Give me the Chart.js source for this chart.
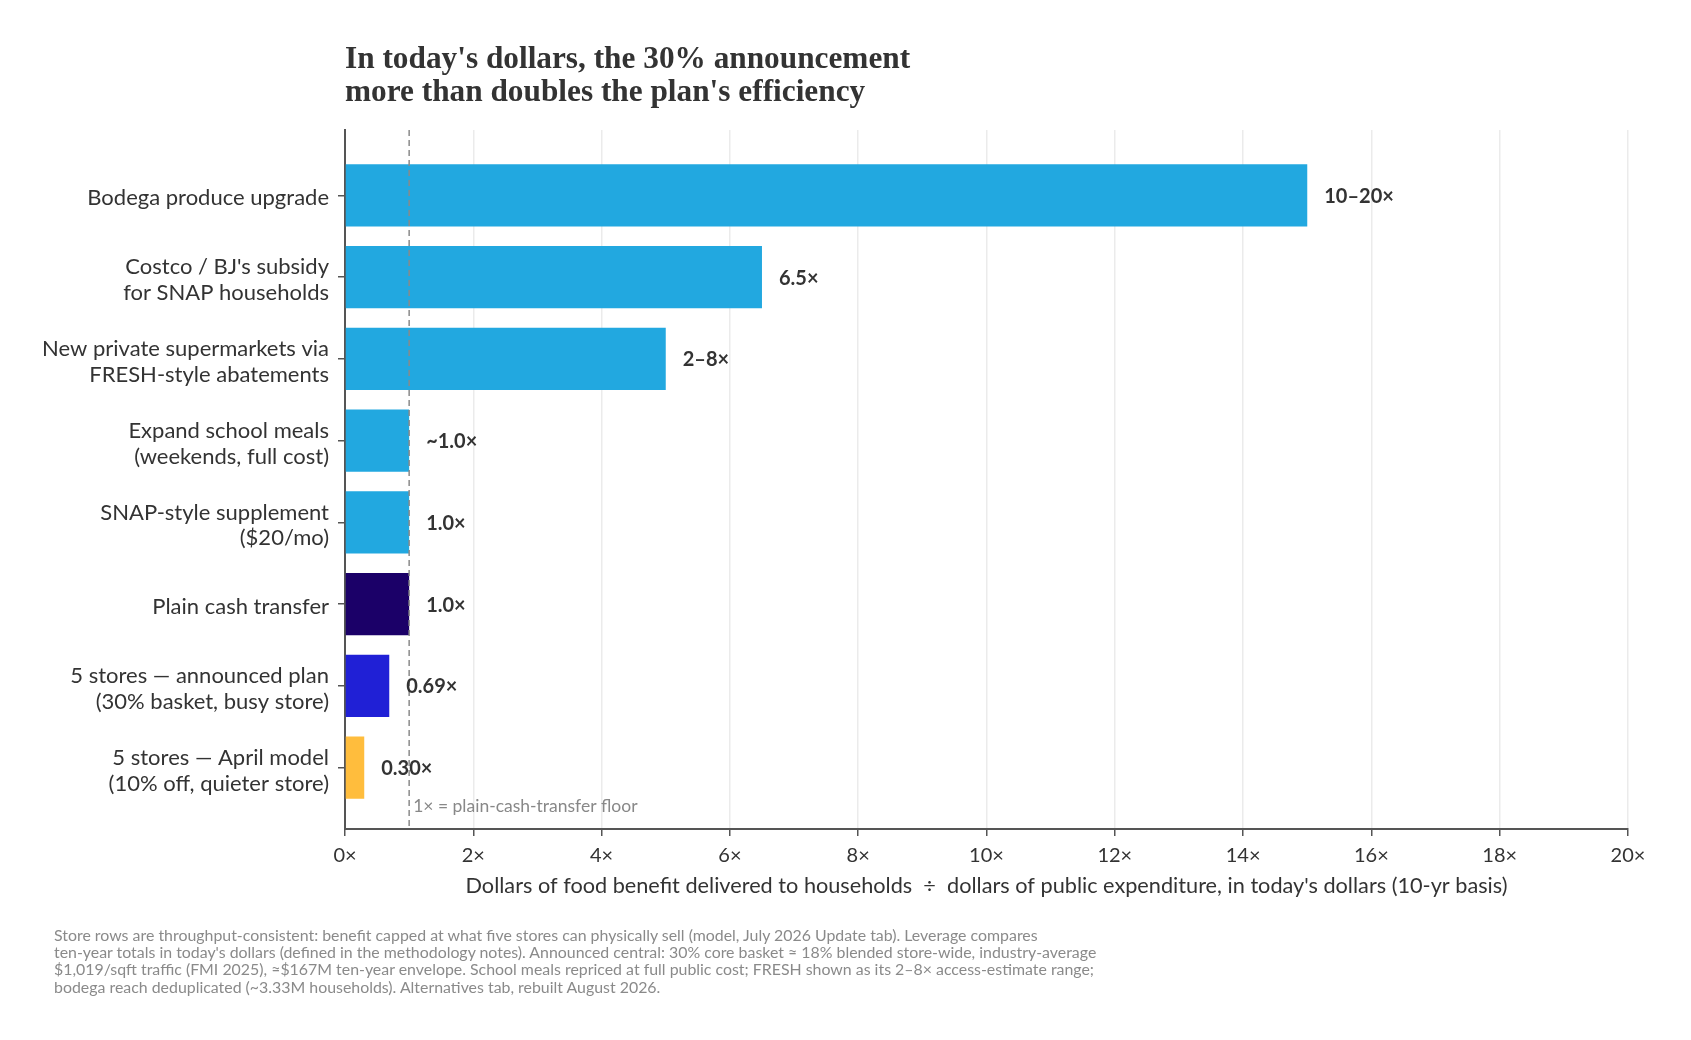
<!DOCTYPE html>
<html lang="en">
<head>
    <meta charset="UTF-8">
    <title>Food benefit leverage</title>
    <script src="https://cdn.jsdelivr.net/npm/chart.js"></script>
    <style>
        body { margin: 0; background: #fff; }
        .wrap { position: relative; width: 1691px; height: 1040px; }
        .title {
            position: absolute; left: 345px; top: 41px;
            font: bold 31.3px/33px "Liberation Serif", serif;
            color: #333;
        }
        .note {
            position: absolute; left: 54px; top: 926px;
            font: 15.9px/17.2px Lato, sans-serif;
            color: #8a8a8a;
            white-space: nowrap;
        }
    </style>
</head>
<body>
<div class="wrap">
    <canvas id="leverageChart"></canvas>
    <div class="title">In today's dollars, the 30% announcement<br>more than doubles the plan's efficiency</div>
    <div class="note">
        Store rows are throughput-consistent: benefit capped at what five stores can physically sell (model, July 2026 Update tab). Leverage compares<br>
        ten-year totals in today's dollars (defined in the methodology notes). Announced central: 30% core basket ≈ 18% blended store-wide, industry-average<br>
        $1,019/sqft traffic (FMI 2025), ≈$167M ten-year envelope. School meals repriced at full public cost; FRESH shown as its 2–8× access-estimate range;<br>
        bodega reach deduplicated (~3.33M households). Alternatives tab, rebuilt August 2026.
    </div>
</div>

<script>
    const categories = [
        'Bodega produce upgrade',
        ['Costco / BJ\'s subsidy', 'for SNAP households'],
        ['New private supermarkets via', 'FRESH-style abatements'],
        ['Expand school meals', '(weekends, full cost)'],
        ['SNAP-style supplement', '($20/mo)'],
        'Plain cash transfer',
        ['5 stores — announced plan', '(30% basket, busy store)'],
        ['5 stores — April model', '(10% off, quieter store)']
    ];
    const leverage = [15, 6.5, 5, 1.0, 1.0, 1.0, 0.69, 0.30];
    const valueLabels = ['10–20×', '6.5×', '2–8×', '~1.0×', '1.0×', '1.0×', '0.69×', '0.30×'];
    const barColors = ['#22a8e0', '#22a8e0', '#22a8e0', '#22a8e0', '#22a8e0', '#1b0068', '#2020d6', '#ffbd3d'];
    const xTicks = [0, 2, 4, 6, 8, 10, 12, 14, 16, 18, 20];
    const floorValue = 1;
    const floorNote = '1× = plain-cash-transfer floor';
    const xTitle = 'Dollars of food benefit delivered to households  ÷  dollars of public expenditure, in today\'s dollars (10-yr basis)';

    // dashed 1x line plus its small note
    const floorLine = {
        id: 'floorLine',
        afterDatasetsDraw(chart) {
            const { ctx, chartArea, scales } = chart;
            const x = scales.x.getPixelForValue(floorValue);
            ctx.save();
            ctx.strokeStyle = '#8a8a8a';
            ctx.lineWidth = 1.5;
            ctx.setLineDash([6, 4]);
            ctx.beginPath();
            ctx.moveTo(x, chartArea.top);
            ctx.lineTo(x, chartArea.bottom);
            ctx.stroke();
            ctx.setLineDash([]);
            ctx.fillStyle = '#888';
            ctx.font = '17.5px Lato';
            ctx.textBaseline = 'alphabetic';
            ctx.fillText(floorNote, x + 4, chartArea.bottom - 17);
            ctx.restore();
        }
    };

    // value text at the end of each bar
    const barValues = {
        id: 'barValues',
        afterDatasetsDraw(chart) {
            const ctx = chart.ctx;
            ctx.save();
            ctx.font = 'bold 20px Lato';
            ctx.fillStyle = '#333';
            ctx.textBaseline = 'middle';
            chart.getDatasetMeta(0).data.forEach((bar, i) => {
                ctx.fillText(valueLabels[i], bar.x + 17, bar.y + 1);
            });
            ctx.restore();
        }
    };

    const ctx = document.getElementById('leverageChart').getContext('2d');
    const leverageChart = new Chart(ctx, {
        type: 'bar',
        data: {
            datasets: [{
                data: leverage.map((v, i) => ({ x: v, y: i })),
                backgroundColor: barColors,
                borderWidth: 0,
                barPercentage: 0.76,
                categoryPercentage: 1
            }]
        },
        options: {
            indexAxis: 'y',
            responsive: true,
            maintainAspectRatio: false,
            animation: false,
            layout: { padding: { top: 130, right: 63, bottom: 141, left: 0 } },
            plugins: {
                legend: { display: false },
                tooltip: { enabled: false }
            },
            scales: {
                x: {
                    type: 'linear',
                    min: 0,
                    max: 20,
                    afterBuildTicks: s => { s.ticks = xTicks.map(v => ({ value: v })); },
                    afterFit: s => { s.height = 70; },
                    ticks: {
                        callback: v => v + '×',
                        color: '#333',
                        font: { family: 'Lato', size: 20 },
                        padding: 8
                    },
                    grid: { color: '#ebebeb', lineWidth: 1.5, tickColor: '#555', tickLength: 7 },
                    border: { color: '#555', width: 2 },
                    title: {
                        display: true,
                        text: xTitle,
                        color: '#333',
                        font: { family: 'Lato', size: 21.7 },
                        padding: 0
                    }
                },
                y: {
                    type: 'linear',
                    reverse: true,
                    offset: false,
                    min: -0.8,
                    max: 7.75,
                    afterBuildTicks: s => { s.ticks = categories.map((_, i) => ({ value: i })); },
                    afterFit: s => { s.width = 345; },
                    ticks: {
                        callback: v => categories[v],
                        color: '#333',
                        font: { family: 'Lato', size: 22, lineHeight: 1.18 },
                        padding: 9,
                        labelOffset: 3,
                        autoSkip: false
                    },
                    grid: { offset: false, drawOnChartArea: false, color: '#555', lineWidth: 1.5, tickLength: 7 },
                    border: { color: '#555', width: 2 }
                }
            }
        },
        plugins: [floorLine, barValues]
    });
</script>
</body>
</html>
